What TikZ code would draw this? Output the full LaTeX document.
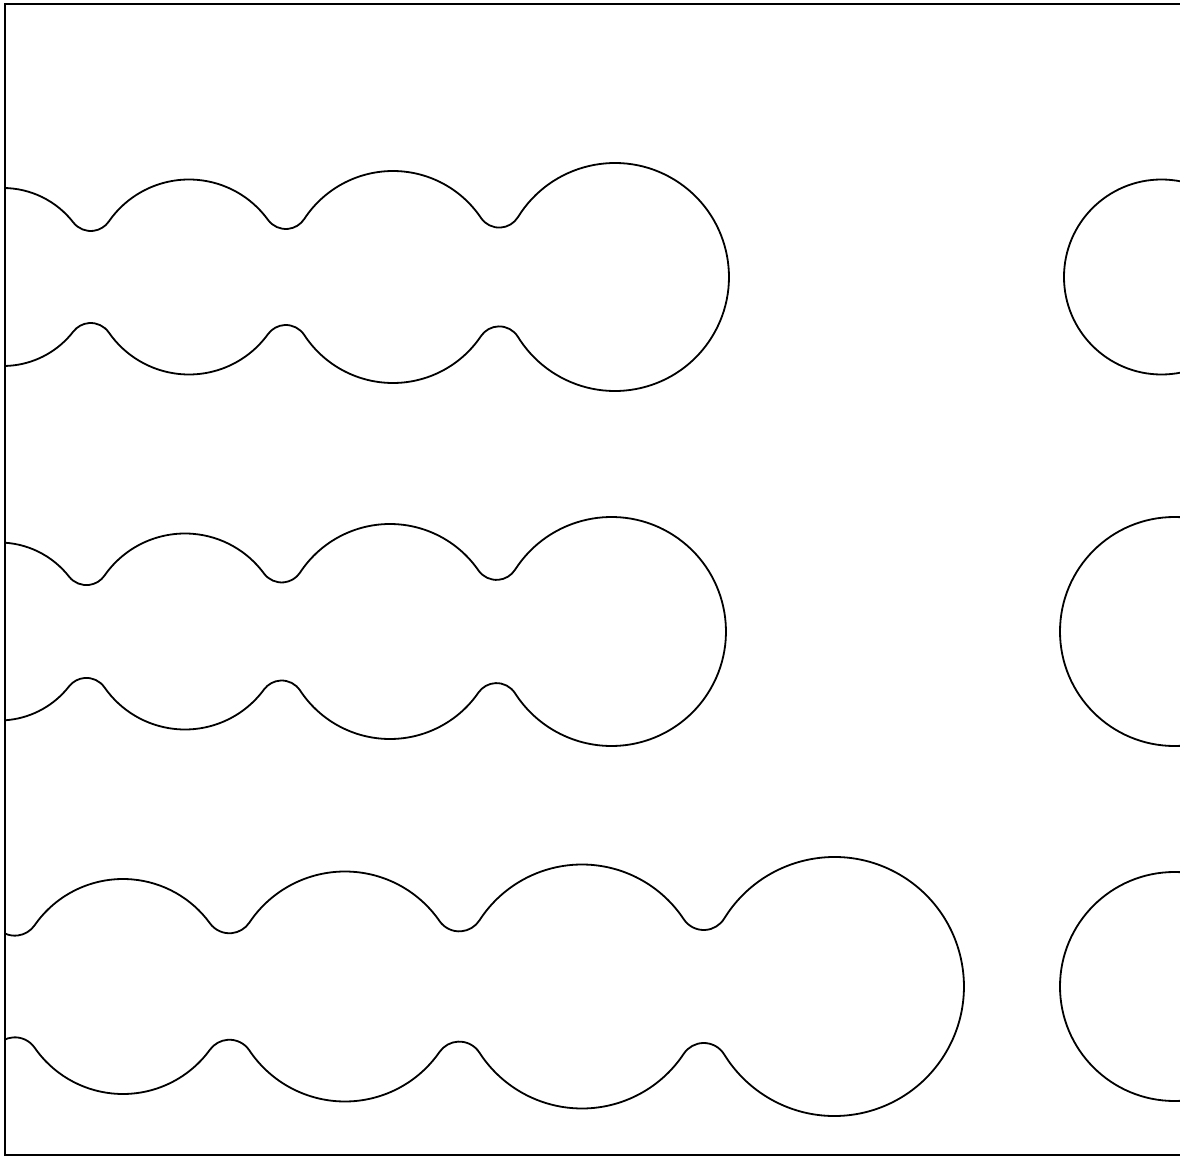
\documentclass[tikz,border=0pt]{standalone}
\newcommand\mkneck[6]{%
 \pgfmathsetmacro\nkD{#4-#2}%
 \pgfmathsetmacro\nkRa{#3+#6}%
 \pgfmathsetmacro\nkRb{#5+#6}%
 \pgfmathsetmacro\nkU{\nkD/2+(\nkRa-\nkRb)*(\nkRa+\nkRb)/(2*\nkD)}%
 \pgfmathsetmacro\nkH{sqrt((\nkRa-\nkU)*(\nkRa+\nkU))}%
 \pgfmathsetmacro\nkA{atan2(\nkH,\nkU)}%
 \pgfmathsetmacro\nkB{atan2(\nkH,\nkU-\nkD)}%
 \expandafter\xdef\csname #1A\endcsname{\nkA}%
 \expandafter\xdef\csname #1B\endcsname{\nkB}%
}
\tikzset{outline/.style={draw=black,line width=0.9pt}}
\begin{document}
\begin{tikzpicture}[x=0.5pt,y=0.5pt]
\useasboundingbox (0,0) rectangle (1180,-1156);
\begin{scope}
\clip (0,0) rectangle (1180,-1156);
% frame
\draw[outline] (1200,-4) -- (5,-4) -- (5,-1155) -- (1200,-1155);
\clip (5,-4) rectangle (1200,-1155);
% ---- row 1 ----
\mkneck{aa}{3}{89}{189}{97.5}{22}
\mkneck{ab}{189}{97.5}{393}{106}{22}
\mkneck{ac}{393}{106}{615}{114}{22}
\draw[outline] (3,-277) ++(180:89)
  arc[start angle=180, end angle=\aaA, radius=89]
  arc[start angle=180+\aaA, end angle=180+\aaB, radius=22]
  arc[start angle=\aaB, end angle=\abA, radius=97.5]
  arc[start angle=180+\abA, end angle=180+\abB, radius=22]
  arc[start angle=\abB, end angle=\acA, radius=106]
  arc[start angle=180+\acA, end angle=180+\acB, radius=22]
  arc[start angle=\acB, end angle=-\acB, radius=114]
  arc[start angle=180-\acB, end angle=180-\acA, radius=22]
  arc[start angle=-\acA, end angle=-\abB, radius=106]
  arc[start angle=180-\abB, end angle=180-\abA, radius=22]
  arc[start angle=-\abA, end angle=-\aaB, radius=97.5]
  arc[start angle=180-\aaB, end angle=180-\aaA, radius=22]
  arc[start angle=-\aaA, end angle=-180, radius=89];
\draw[outline] (1161.5,-277) circle[radius=97.5];
% ---- row 2 ----
\mkneck{ba}{-1}{89}{185}{98}{22}
\mkneck{bb}{185}{98}{390}{107.5}{22}
\mkneck{bc}{390}{107.5}{611.5}{114.5}{22}
\draw[outline] (-1,-631.5) ++(180:89)
  arc[start angle=180, end angle=\baA, radius=89]
  arc[start angle=180+\baA, end angle=180+\baB, radius=22]
  arc[start angle=\baB, end angle=\bbA, radius=98]
  arc[start angle=180+\bbA, end angle=180+\bbB, radius=22]
  arc[start angle=\bbB, end angle=\bcA, radius=107.5]
  arc[start angle=180+\bcA, end angle=180+\bcB, radius=22]
  arc[start angle=\bcB, end angle=-\bcB, radius=114.5]
  arc[start angle=180-\bcB, end angle=180-\bcA, radius=22]
  arc[start angle=-\bcA, end angle=-\bbB, radius=107.5]
  arc[start angle=180-\bbB, end angle=180-\bbA, radius=22]
  arc[start angle=-\bbA, end angle=-\baB, radius=98]
  arc[start angle=180-\baB, end angle=180-\baA, radius=22]
  arc[start angle=-\baA, end angle=-180, radius=89];
\draw[outline] (1174.5,-631.5) circle[radius=114.5];
% ---- row 3 ----
\mkneck{ca}{-84}{100}{123}{107.5}{24}
\mkneck{cb}{123}{107.5}{345}{115}{24}
\mkneck{cc}{345}{115}{582}{122}{24}
\mkneck{cd}{582}{122}{834.5}{129.5}{24}
\draw[outline] (-84,-986.5) ++(180:100)
  arc[start angle=180, end angle=\caA, radius=100]
  arc[start angle=180+\caA, end angle=180+\caB, radius=24]
  arc[start angle=\caB, end angle=\cbA, radius=107.5]
  arc[start angle=180+\cbA, end angle=180+\cbB, radius=24]
  arc[start angle=\cbB, end angle=\ccA, radius=115]
  arc[start angle=180+\ccA, end angle=180+\ccB, radius=24]
  arc[start angle=\ccB, end angle=\cdA, radius=122]
  arc[start angle=180+\cdA, end angle=180+\cdB, radius=24]
  arc[start angle=\cdB, end angle=-\cdB, radius=129.5]
  arc[start angle=180-\cdB, end angle=180-\cdA, radius=24]
  arc[start angle=-\cdA, end angle=-\ccB, radius=122]
  arc[start angle=180-\ccB, end angle=180-\ccA, radius=24]
  arc[start angle=-\ccA, end angle=-\cbB, radius=115]
  arc[start angle=180-\cbB, end angle=180-\cbA, radius=24]
  arc[start angle=-\cbA, end angle=-\caB, radius=107.5]
  arc[start angle=180-\caB, end angle=180-\caA, radius=24]
  arc[start angle=-\caA, end angle=-180, radius=100];
\draw[outline] (1174.5,-986.5) circle[radius=114.5];
\end{scope}
\end{tikzpicture}
\end{document}
